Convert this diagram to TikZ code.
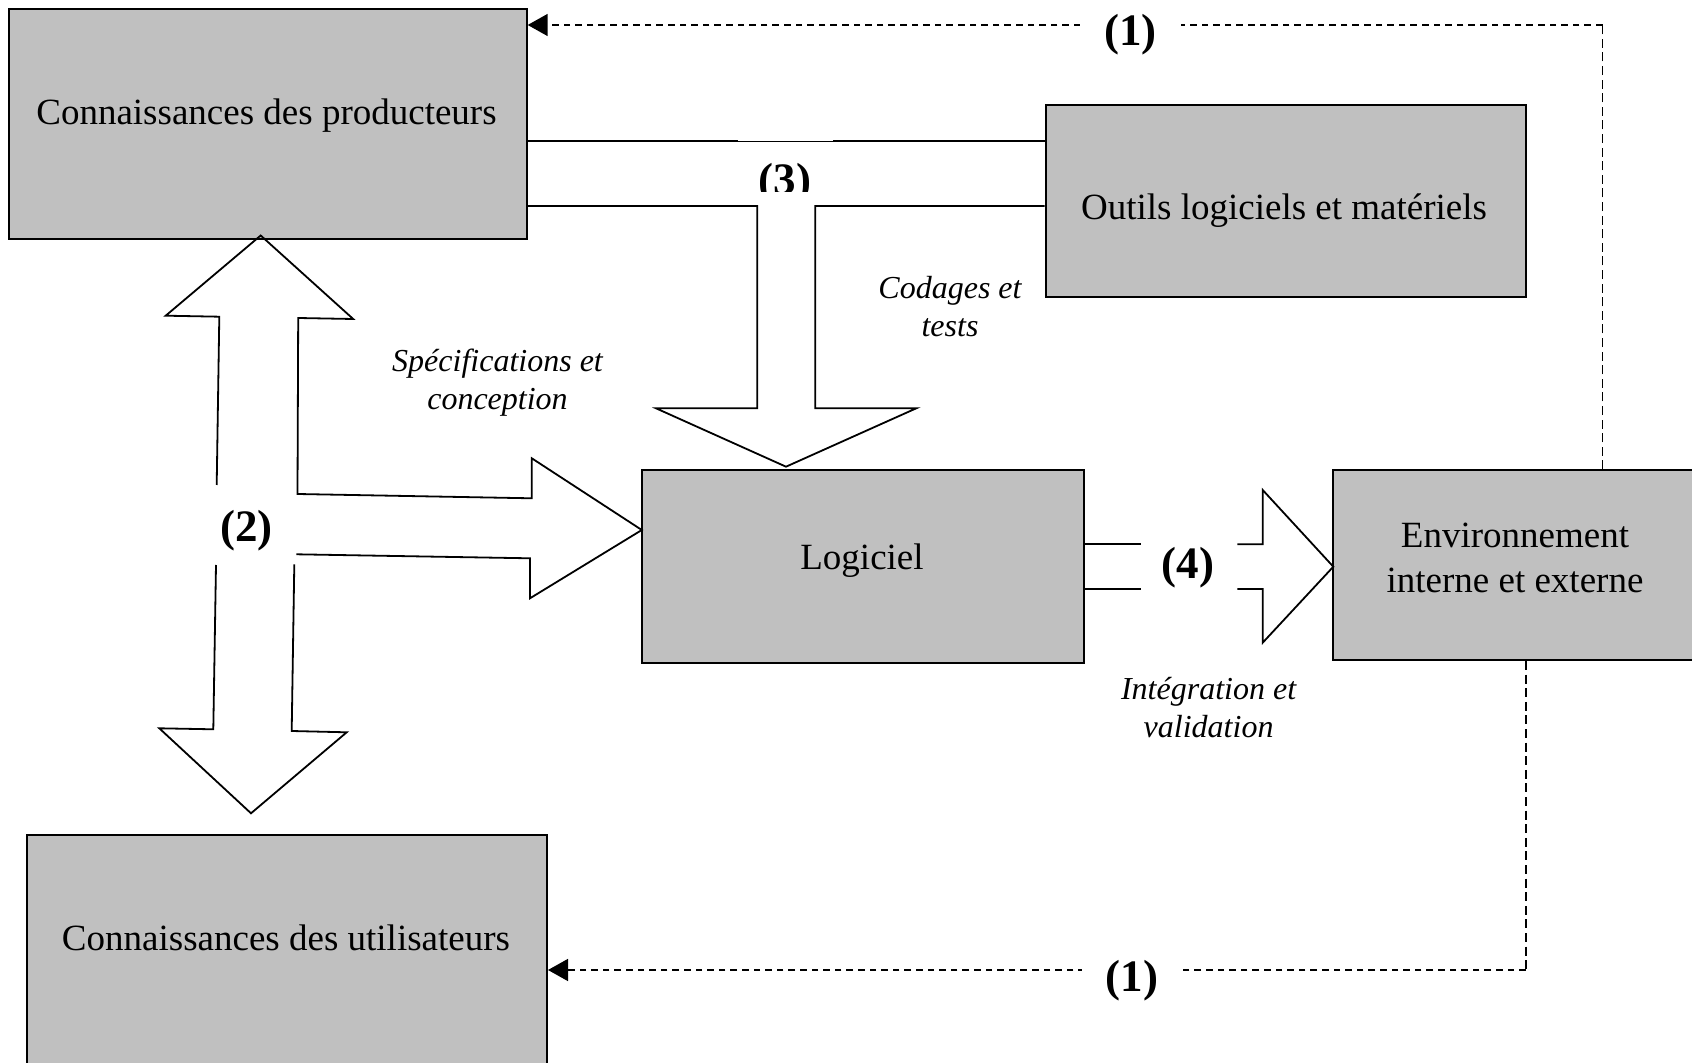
\documentclass[tikz,border=0pt]{standalone}
\usepackage{fontspec}
\setmainfont{Liberation Serif}
\usetikzlibrary{fit,arrows.meta}
\definecolor{boxgray}{HTML}{C0C0C0}
\begin{document}
\begin{tikzpicture}[x=0.5pt,y=-0.5pt,
  box/.style={draw=black, line width=1pt, fill=boxgray, inner sep=0pt},
  txt/.style={font=\fontsize{18.5}{22.25}\selectfont, align=center, inner sep=0pt},
  lab/.style={font=\fontsize{16}{19}\selectfont\itshape, align=center, inner sep=0pt},
  num/.style={font=\fontsize{22.5}{27}\selectfont\bfseries, inner sep=0pt},
  blk/.style={draw=black, line width=0.9pt, line join=miter},
  dh/.style={line width=0.75pt, dash pattern=on 3.3pt off 2.5pt},
  dv/.style={line width=0.75pt, dash pattern=on 4.5pt off 2.3pt},
  tipa/.style={-{Triangle[length=10pt,width=11pt]}}]

\clip (0,0) rectangle (1692,1063);

% boxes
\node[box, fit={(8.6,9.5) (526.7,239.5)}] (prod) {};
\node[box, fit={(1045.6,105.5) (1525.9,296.8)}] (outils) {};
\node[box, fit={(642,470.5) (1084,662.6)}] (logi) {};
\node[box, fit={(1333.3,470.5) (1710,660)}] (env) {};
\node[box, fit={(27,835) (547,1090)}] (util) {};

% box texts
\node[txt] (prodt) at (266.5,116) {Connaissances des producteurs};
\node[txt] (outilst) at (1284,211) {Outils logiciels et matériels};
\node[txt] (logit) at (862,561) {Logiciel};
\node[txt] (envt) at (1515,558) {Environnement\\interne et externe};
\node[txt] (utilt) at (286,938) {Connaissances des utilisateurs};

% italic labels
\node[lab] (spec) at (497.5,383) {Spécifications et\\conception};
\node[lab] (coda) at (950,307) {Codages et\\tests};
\node[lab] (integ) at (1208.6,708) {Intégration et\\validation};

% block arrow (3)
\draw[blk] (prod.east |- 0,141) -- (738,141);
\draw[draw=black, line width=0.4pt] (738,141) -- (833,141);
\draw[blk] (833,141) -- (outils.west |- 0,141);
\draw[blk] (prod.east |- 0,206) -- (757.3,206) -- (757.3,408.3) -- (656,408.3)
  -- (786,466.7) -- (916.3,408.3) -- (815.2,408.3) -- (815.2,206) -- (outils.west |- 0,206);
\begin{scope}
  \clip (700,150) rectangle (870,192);
  \node[num, anchor=base] (n3) at (785,195) {(3)};
\end{scope}

% block arrow (2)
\draw[blk] (216.7,485) -- (219.3,316.7) -- (165.7,315.7) -- (260.7,235.5) -- (353.2,319)
  -- (298.2,318) -- (297.5,494) -- (531.8,498.3) -- (531.8,458.3) -- (641.8,530)
  -- (530,598.3) -- (530,558.3) -- (296.4,554.3);
\draw[blk] (216,565) -- (213.3,729.3) -- (159.3,728.3) -- (251,813.3) -- (346.7,732.3)
  -- (291.7,731) -- (294.3,564.3);
\node[num] (n2) at (246.7,531) {(2)};

% block arrow (4)
\draw[blk] (logi.east |- 0,544.3) -- (1140.6,544.3);
\draw[blk] (logi.east |- 0,589) -- (1140.6,589);
\draw[blk] (1237.3,544.3) -- (1262.7,544.3) -- (1262.7,490) -- (1333.3,566.7)
  -- (1262.7,642.7) -- (1262.7,589) -- (1237.3,589);
\node[num] (n4) at (1188,568) {(4)};

% dashed feedback (1) top
\coordinate (tr) at (1602.5,25);
\draw[dv] (env.north -| tr) -- (tr);
\draw[dh,tipa] (tr) -- (prod.east |- tr);
\node[num, fill=white, inner xsep=12pt, inner ysep=0pt] (n1a) at (1130.5,35) {(1)};

% dashed feedback (1) bottom
\coordinate (br) at (1525.8,970);
\draw[dv] (env.south -| br) -- (br);
\draw[dh,tipa] (br) -- (util.east |- br);
\node[num, fill=white, inner xsep=12pt, inner ysep=0pt] (n1b) at (1132,981) {(1)};
\end{tikzpicture}
\end{document}
